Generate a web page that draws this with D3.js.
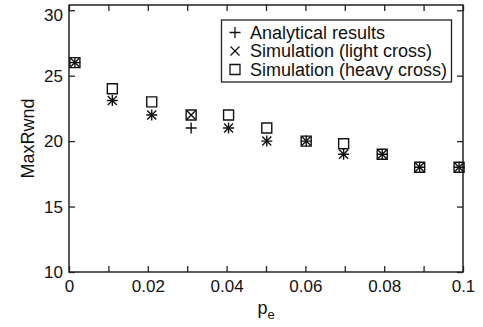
<!DOCTYPE html>
<html>
<head>
<meta charset="utf-8">
<script src="https://cdn.jsdelivr.net/npm/d3@7"></script>
<style>
	body { margin: 0; background: #fff; }
	svg { font-family: "Liberation Sans", Arial, sans-serif; }
	.axis text { font-size: 17px; fill: #111; }
	.axis line { stroke: #222; stroke-width: 1.3; }
</style>
</head>
<body>
<div id="chart"></div>
<script>
// Data
const pe = [0.0015, 0.011, 0.021, 0.031, 0.0405, 0.0502, 0.0602, 0.0697, 0.0795, 0.089, 0.099];
const analytical = [26, 23.1, 22, 21, 21, 20, 20, 19, 19, 18, 18];
const lightCross = [26, 23.1, 22, 22, 21, 20, 20, 19, 19, 18, 18];
const heavyCross = [26, 24, 23, 22, 22, 21, 20, 19.8, 19, 18, 18];

const xTicks = [0, 0.01, 0.02, 0.03, 0.04, 0.05, 0.06, 0.07, 0.08, 0.09, 0.1];
const xTickLabels = ["0", "0.02", "0.04", "0.06", "0.08", "0.1"];
const yTicks = [10, 15, 20, 25, 30];
const legendLabels = ["Analytical results", "Simulation (light cross)", "Simulation (heavy cross)"];

const width = 483, height = 327;
const margin = {top: 5, right: 20, bottom: 55, left: 69};
const plotW = width - margin.left - margin.right,
	plotH = height - margin.top - margin.bottom;

const svg = d3.select("#chart").append("svg")
	.attr("width", width).attr("height", height);
const g = svg.append("g")
	.attr("transform", `translate(${margin.left},${margin.top})`);

const x = d3.scaleLinear([0, 0.1], [0, plotW]);
const y = d3.scaleLinear([10, 30.4], [plotH, 0]);

// marker shapes
const plusPath = (s) => `M${-s},0H${s}M0,${-s}V${s}`;
const crossPath = (s) => `M${-s},${-s}L${s},${s}M${-s},${s}L${s},${-s}`;
const squarePath = (s) => `M${-s},${-s}H${s}V${s}H${-s}Z`;
const shapes = [plusPath(5.5), crossPath(4.5), squarePath(5)];

// axes, ticks inward on all four sides
g.append("g").attr("class", "axis")
	.attr("transform", `translate(0,${plotH})`)
	.call(d3.axisBottom(x).tickValues(xTicks).tickSize(-6).tickPadding(8)
		.tickFormat((d, i) => i % 2 === 0 ? xTickLabels[i / 2] : ""));
g.append("g").attr("class", "axis")
	.call(d3.axisTop(x).tickValues(xTicks).tickSize(-6).tickFormat(""));
const yAxis = g.append("g").attr("class", "axis")
	.call(d3.axisLeft(y).tickValues(yTicks).tickSize(-6).tickPadding(6));
// top label sits a little lower in the original
yAxis.selectAll(".tick text").filter((d) => d === 30).attr("dy", "0.6em");
g.append("g").attr("class", "axis")
	.attr("transform", `translate(${plotW},0)`)
	.call(d3.axisRight(y).tickValues(yTicks).tickSize(-6).tickFormat(""));
g.selectAll(".axis .domain").remove();

g.append("rect")
	.attr("width", plotW).attr("height", plotH)
	.attr("fill", "none").attr("stroke", "#222").attr("stroke-width", 1.5);

// points
[analytical, lightCross, heavyCross].forEach((series, k) => {
	g.append("g").selectAll("path")
		.data(series.map((v, i) => [pe[i], v]))
		.join("path")
		.attr("transform", (d) => `translate(${x(d[0])},${y(d[1])})`)
		.attr("d", shapes[k])
		.attr("fill", "none").attr("stroke", "#111").attr("stroke-width", 1.4);
});

// legend
const legend = svg.append("g").attr("transform", "translate(221.5,20)");
legend.append("rect")
	.attr("width", 230).attr("height", 62)
	.attr("fill", "#fff").attr("stroke", "#222").attr("stroke-width", 1.3);
legendLabels.forEach((label, k) => {
	const row = legend.append("g").attr("transform", `translate(13.5,${12.5 + k * 18.5})`);
	row.append("path").attr("d", shapes[k])
		.attr("fill", "none").attr("stroke", "#111").attr("stroke-width", 1.3);
	row.append("text").attr("x", 15).attr("dy", "0.35em")
		.style("font-size", "18px").attr("fill", "#111").text(label);
});

// axis titles
svg.append("text")
	.attr("transform", `translate(34,${margin.top + plotH / 2}) rotate(-90)`)
	.attr("text-anchor", "middle").style("font-size", "18px").attr("fill", "#111")
	.text("MaxRwnd");
const xt = svg.append("text")
	.attr("x", 266).attr("y", 314).attr("text-anchor", "middle")
	.style("font-size", "18px").attr("fill", "#111");
xt.append("tspan").text("p");
xt.append("tspan").attr("dy", 5).style("font-size", "13px").text("e");
</script>
</body>
</html>
